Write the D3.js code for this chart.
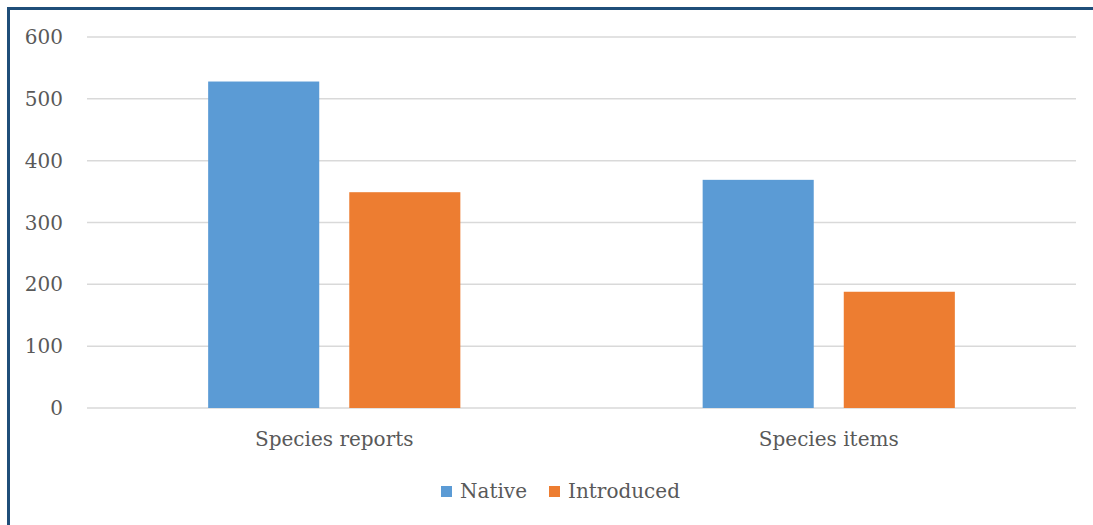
<!DOCTYPE html>
<html lang="en">
<head>
  <meta charset="UTF-8">
  <title>Species chart</title>
  <script src="https://cdn.jsdelivr.net/npm/d3@7"></script>
  <style>
    html, body { margin: 0; padding: 0; background: #fff; }
    svg { display: block; }
    text { font-family: 'DejaVu Serif', 'Liberation Serif', serif; fill: #595959; }
  </style>
</head>
<body>
  <svg width="1093" height="525"></svg>
  <script>
    const categories = ['Species reports', 'Species items']
    const seriesNames = ['Native', 'Introduced']
    const nativeValues = [528, 369]
    const introducedValues = [349, 188]
    const yTicks = [0, 100, 200, 300, 400, 500, 600]
    const colors = ['#5B9BD5', '#ED7D31']

    const svg = d3.select('svg')
    const plotLeft = 87, plotRight = 1076, plotTop = 37, plotBottom = 408

    // frame (only top and left edges are in view)
    svg.append('path')
      .attr('d', 'M8.5,525 L8.5,8.5 L1093,8.5')
      .attr('fill', 'none')
      .attr('stroke', '#1F4E79')
      .attr('stroke-width', 3)

    const y = d3.scaleLinear().domain([0, 600]).range([plotBottom, plotTop])
    const x0 = d3.scaleBand().domain(categories).range([plotLeft, plotRight])
      .paddingInner(0.49).paddingOuter(0.245)
    const x1 = d3.scaleBand().domain(seriesNames).range([0, x0.bandwidth()])
      .paddingInner(0.2128)

    // gridlines
    svg.append('g')
      .selectAll('line')
      .data(yTicks)
      .join('line')
      .attr('x1', plotLeft).attr('x2', plotRight)
      .attr('y1', d => y(d)).attr('y2', d => y(d))
      .attr('stroke', '#D9D9D9')
      .attr('stroke-width', 1.5)

    // y tick labels
    svg.append('g')
      .selectAll('text')
      .data(yTicks)
      .join('text')
      .attr('x', 63)
      .attr('y', d => y(d))
      .attr('dy', '0.35em')
      .attr('text-anchor', 'end')
      .attr('font-size', 20)
      .text(d => d)

    const rows = categories.map((c, i) => ({
      cat: c,
      vals: [nativeValues[i], introducedValues[i]]
    }))

    const groups = svg.append('g')
      .selectAll('g')
      .data(rows)
      .join('g')
      .attr('transform', d => `translate(${x0(d.cat)},0)`)

    groups.selectAll('rect')
      .data(d => d.vals.map((v, j) => ({ name: seriesNames[j], value: v, color: colors[j] })))
      .join('rect')
      .attr('x', d => x1(d.name))
      .attr('y', d => y(d.value))
      .attr('width', x1.bandwidth())
      .attr('height', d => plotBottom - y(d.value))
      .attr('fill', d => d.color)

    // category labels
    svg.append('g')
      .selectAll('text')
      .data(categories)
      .join('text')
      .attr('x', d => x0(d) + x0.bandwidth() / 2)
      .attr('y', 446)
      .attr('text-anchor', 'middle')
      .attr('font-size', 20)
      .text(d => d)

    // legend
    const legendX = [441, 549]
    const legend = svg.append('g')
      .selectAll('g')
      .data(seriesNames)
      .join('g')
      .attr('transform', (d, i) => `translate(${legendX[i]},0)`)
    legend.append('rect')
      .attr('x', 0).attr('y', 486)
      .attr('width', 11).attr('height', 11)
      .attr('fill', (d, i) => colors[i])
    legend.append('text')
      .attr('x', 19).attr('y', 498)
      .attr('font-size', 20)
      .text(d => d)
  </script>
</body>
</html>
